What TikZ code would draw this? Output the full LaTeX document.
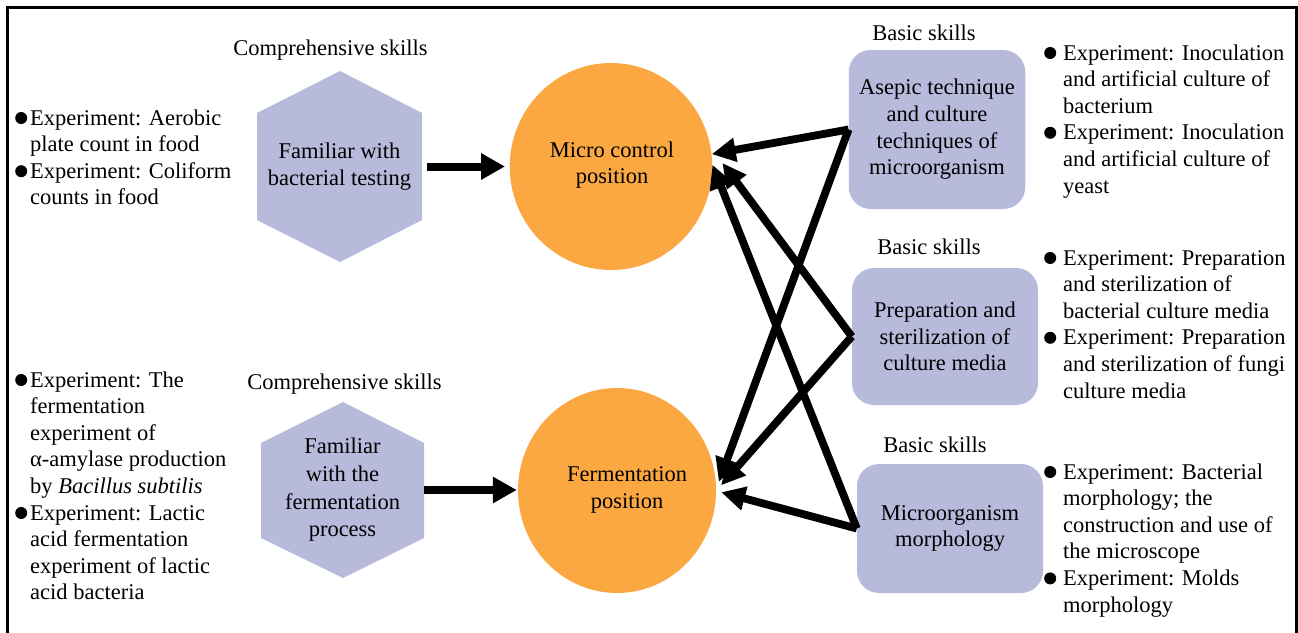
\documentclass[tikz,border=0pt]{standalone}
\usepackage{fontspec}
\setmainfont{Liberation Serif}
\usetikzlibrary{arrows.meta,shapes.geometric,calc}
\definecolor{lav}{RGB}{184,186,220}
\definecolor{orng}{RGB}{251,168,66}
\newcommand{\bulL}{\makebox[15pt][l]{\tikz[baseline=-7pt]\fill (6pt,0pt) circle (6pt);}}
\newcommand{\bulR}{\makebox[19pt][l]{\tikz[baseline=-7pt]\fill (6pt,0pt) circle (6pt);}}
\begin{document}
\begin{tikzpicture}[x=1pt,y=-1pt,
  every node/.style={font=\fontsize{22.5}{26.6}\selectfont, inner sep=0pt},
  boxst/.style={rectangle, rounded corners=22pt, fill=lav, align=center},
  circst/.style={ellipse, fill=orng},
  conn/.style={line width=7.8pt, -{Triangle[length=24pt,width=23pt]}},
  hconn/.style={line width=8pt, -{Triangle[length=24pt,width=25pt]}},
  lbl/.style={anchor=base},
  blk/.style={anchor=base west}]
\useasboundingbox (0,0) rectangle (1298,632);
% frame
\draw[line width=2.2pt] (7.5,650) -- (7.5,7.5) -- (1296.5,7.5) -- (1296.5,650);

% circles
\node[circst, minimum width=202.5pt, minimum height=207pt] (mc) at (611,166.5) {};
\node[align=center] (mct) at (612,165) {Micro control\\position};
\node[circst, minimum width=198pt, minimum height=205pt] (fc) at (617,490.5) {};
\node[align=center] (fct) at (627,490) {Fermentation\\position};

% hexagons
\fill[lav] (340,71) -- (422,113) -- (422,220) -- (340,262) -- (257,220) -- (257,113) -- cycle;
\node[minimum width=165pt, minimum height=191pt, align=center] (h1) at (339.5,166.5) {Familiar with\\bacterial testing};
\fill[lav] (343,402) -- (424,443) -- (424,538) -- (343,578) -- (261,538) -- (261,443) -- cycle;
\node[minimum width=163pt, minimum height=176pt, align=center, font=\fontsize{22.5}{27.7}\selectfont] (h2) at (342.5,490) {Familiar\\with the\\fermentation\\process};

% boxes
\node[boxst, minimum width=176.5pt, minimum height=159pt] (tb) at (937,129.5) {Asepic technique\\and culture\\techniques of\\microorganism};
\node[boxst, minimum width=186pt, minimum height=137pt] (mb) at (945,336.5) {Preparation and\\sterilization of\\culture media};
\node[boxst, minimum width=186pt, minimum height=129pt] (bb) at (950,528.5) {Microorganism\\morphology};

% labels
\node[lbl] (cs1) at (330.5,55) {Comprehensive skills};
\node[lbl] (cs2) at (344.5,389) {Comprehensive skills};
\node[lbl] (bs1) at (924,40) {Basic skills};
\node[lbl] (bs2) at (929,254) {Basic skills};
\node[lbl] (bs3) at (935,452) {Basic skills};

% bullet blocks
\node[blk] (L1) at (15,125) {\begin{tabular}[t]{@{}l@{}l@{}}
\bulL & Experiment: Aerobic\\
 & plate count in food\\
\bulL & Experiment: Coliform\\
 & counts in food
\end{tabular}};
\node[blk] (L2) at (15,387) {\begin{tabular}[t]{@{}l@{}l@{}}
\bulL & Experiment: The\\
 & fermentation\\
 & experiment of\\
 & α-amylase production\\
 & by \textit{Bacillus subtilis}\\
\bulL & Experiment: Lactic\\
 & acid fermentation\\
 & experiment of lactic\\
 & acid bacteria
\end{tabular}};
\node[blk] (R1) at (1044,60) {\begin{tabular}[t]{@{}l@{}l@{}}
\bulR & Experiment: Inoculation\\
 & and artificial culture of\\
 & bacterium\\
\bulR & Experiment: Inoculation\\
 & and artificial culture of\\
 & yeast
\end{tabular}};
\node[blk] (R2) at (1044,265) {\begin{tabular}[t]{@{}l@{}l@{}}
\bulR & Experiment: Preparation\\
 & and sterilization of\\
 & bacterial culture media\\
\bulR & Experiment: Preparation\\
 & and sterilization of fungi\\
 & culture media
\end{tabular}};
\node[blk] (R3) at (1044,479) {\begin{tabular}[t]{@{}l@{}l@{}}
\bulR & Experiment: Bacterial\\
 & morphology; the\\
 & construction and use of\\
 & the microscope\\
\bulR & Experiment: Molds\\
 & morphology
\end{tabular}};

% horizontal arrows
\draw[hconn, shorten <=5pt, shorten >=4.5pt] (h1.east) -- (h1.east -| mc.west);
\draw[hconn, shorten >=1pt] (h2.east) -- (h2.east -| fc.west);

% diagonal arrows
\draw[conn] (tb.west) -- (mc.7.6);
\draw[conn] (tb.west) -- ([xshift=3pt]fc.5);
\draw[conn] (mb.west) -- ([xshift=10pt]mc.2);
\draw[conn] (mb.west) -- ([xshift=5pt]fc.3.5);
\draw[conn] (bb.west) -- (mc.1.5);
\draw[conn] (bb.west) -- ([xshift=5pt]fc.-1);
\end{tikzpicture}
\end{document}
